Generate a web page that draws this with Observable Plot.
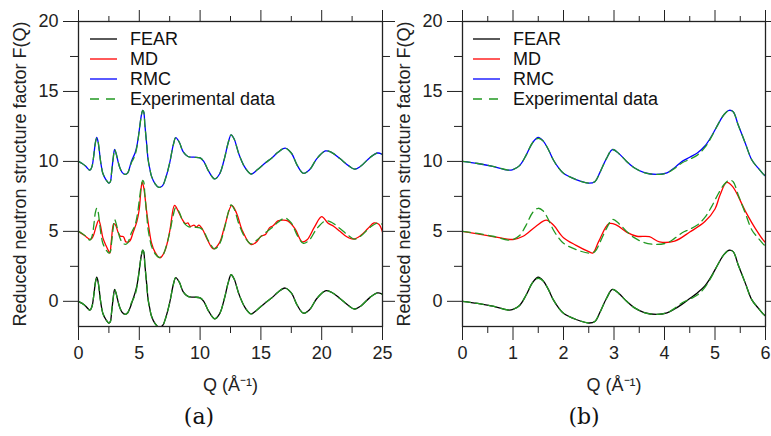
<!DOCTYPE html>
<html><head><meta charset="utf-8">
<script src="https://cdn.jsdelivr.net/npm/d3@7"></script>
<script src="https://cdn.jsdelivr.net/npm/@observablehq/plot@0.6"></script>
<style>
body{margin:0;background:#fff;font-family:"Liberation Sans",Arial,sans-serif;}
#wrap{position:relative;width:771px;height:436px;overflow:hidden;}
.panel{position:absolute;top:0;}
.cap{position:absolute;top:402px;height:30px;line-height:30px;font-family:"DejaVu Serif",serif;font-size:22px;text-align:center;color:#111;}
.legend{position:absolute;top:0;left:0;overflow:visible;}
</style></head><body>
<div id="wrap"></div>
<script>
// ---- data ----
const qExp = [0,0.3,0.6,0.9,1.0,1.13,1.26,1.39,1.5,1.6,1.7,1.8,1.9,2.0,2.25,2.5,2.62,2.72,2.85,2.97,3.1,3.25,3.4,3.6,3.85,4.05,4.2,4.35,4.5,4.65,4.8,4.93,5.06,5.18,5.28,5.36,5.46,5.6,5.73,5.86,6.0,6.3,6.6,6.9,7.2,7.5,7.8,8.0,8.3,8.6,9.0,9.5,10.0,10.3,10.7,11.2,11.6,12.0,12.3,12.55,12.8,13.2,13.7,14.2,14.7,15.3,15.9,16.4,17.0,17.5,18.0,18.5,19.0,19.6,20.3,20.8,21.5,22.2,22.7,23.2,24.0,24.6,25.0];
const expF = [0.0,-0.15,-0.35,-0.62,-0.58,-0.3,0.45,1.35,1.65,1.45,0.85,0.1,-0.45,-0.85,-1.3,-1.55,-1.45,-0.8,0.2,0.85,0.55,0.0,-0.45,-0.8,-0.93,-0.82,-0.5,-0.1,0.15,0.45,1.0,1.75,2.65,3.35,3.65,3.55,2.6,1.3,0.1,-0.5,-1.05,-1.6,-1.85,-1.75,-1.1,-0.1,1.2,1.7,1.35,0.7,0.35,0.3,0.25,0.0,-0.7,-1.25,-0.9,0.2,1.3,1.9,1.6,0.5,-0.45,-0.9,-0.6,-0.15,0.25,0.65,0.95,0.6,-0.3,-0.85,-0.6,0.2,0.75,0.65,0.2,-0.3,-0.55,-0.35,0.3,0.6,0.5];
const fearF = [0.0,-0.15,-0.35,-0.62,-0.58,-0.3,0.45,1.35,1.72,1.45,0.85,0.1,-0.45,-0.85,-1.3,-1.55,-1.45,-0.8,0.2,0.85,0.55,0.0,-0.45,-0.8,-0.93,-0.82,-0.55,-0.2,0.2,0.6,1.1,1.8,2.65,3.35,3.65,3.55,2.6,1.3,0.1,-0.5,-1.05,-1.6,-1.85,-1.75,-1.1,-0.1,1.2,1.7,1.35,0.7,0.35,0.3,0.25,0.0,-0.7,-1.25,-0.9,0.2,1.3,1.9,1.6,0.5,-0.45,-0.9,-0.6,-0.15,0.25,0.65,0.95,0.6,-0.3,-0.85,-0.6,0.2,0.75,0.65,0.2,-0.3,-0.55,-0.35,0.3,0.6,0.5];
const rmcF = [0.0,-0.15,-0.35,-0.62,-0.58,-0.3,0.45,1.35,1.72,1.45,0.85,0.1,-0.45,-0.85,-1.3,-1.55,-1.45,-0.8,0.2,0.85,0.55,0.0,-0.45,-0.8,-0.93,-0.82,-0.45,0.0,0.3,0.6,1.1,1.8,2.65,3.35,3.65,3.55,2.6,1.3,0.1,-0.5,-1.05,-1.6,-1.85,-1.75,-1.1,-0.1,1.2,1.7,1.35,0.7,0.35,0.3,0.25,0.0,-0.7,-1.25,-0.9,0.2,1.3,1.9,1.6,0.5,-0.45,-0.9,-0.6,-0.15,0.25,0.65,0.95,0.6,-0.3,-0.85,-0.6,0.2,0.75,0.65,0.2,-0.3,-0.55,-0.35,0.3,0.6,0.5];
const qMD = [0,0.5,1.0,1.2,1.45,1.66,1.8,2.0,2.25,2.5,2.58,2.7,2.9,3.05,3.25,3.45,3.7,3.9,4.2,4.5,4.8,5.0,5.1,5.23,5.35,5.6,5.8,6.0,6.3,6.7,7.1,7.5,7.9,8.2,8.5,8.8,9.0,9.2,9.5,9.7,9.9,10.2,10.6,11.1,11.6,12.0,12.6,13.0,13.5,14.2,14.7,15.0,15.4,15.7,16.0,16.4,16.8,17.2,17.8,18.4,18.8,19.4,20.0,20.5,21.0,21.5,22.0,22.6,23.2,23.8,24.3,24.7,25.0];
const mdF = [0.0,-0.3,-0.58,-0.35,0.35,0.8,0.45,-0.45,-1.0,-1.45,-1.55,-0.7,0.55,0.45,-0.05,-0.35,-0.38,-0.75,-0.7,-0.05,0.7,1.6,2.6,3.5,3.2,1.45,0.2,-0.8,-1.5,-1.9,-1.4,0.0,1.85,1.45,0.9,0.55,0.6,0.35,0.45,0.3,0.45,0.15,-0.6,-1.25,-0.8,0.3,1.85,1.3,0.0,-0.95,-0.7,-0.35,-0.2,0.25,0.4,0.75,0.8,0.75,0.2,-0.75,-0.6,0.3,1.05,0.6,0.35,0.0,-0.35,-0.55,-0.3,0.2,0.6,0.5,-0.05];
const seriesNames = ["FEAR", "MD", "RMC", "Experimental data"];
const seriesColors = ["#000000", "#ff0000", "#0000ff", "#229922"];
const seriesOffset = {FEAR: 0, MD: 5, RMC: 10};
const yMajor = [0, 5, 10, 15, 20];
const yMinor = [2.5, 7.5, 12.5, 17.5];
const xMajorA = [0, 5, 10, 15, 20, 25];
const xMinorA = [2.5, 7.5, 12.5, 17.5, 22.5];
const xMajorB = [0, 1, 2, 3, 4, 5, 6];
const xMinorB = [0.5, 1.5, 2.5, 3.5, 4.5, 5.5];

// ---- build tables ----
const rows = (q, f, off, s) => q.map((Q, i) => ({Q, F: f[i] + off, s}));
const fear = rows(qExp, fearF, seriesOffset.FEAR, "FEAR");
const rmc = rows(qExp, rmcF, seriesOffset.RMC, "RMC");
const md = rows(qMD, mdF, seriesOffset.MD, "MD");
const exps = [0, 5, 10].flatMap(off => rows(qExp, expF, off, "exp" + off));

const axisColor = "#222";
const fmt = d => String(d);
function panel(xDomain, xMajor, xMinor, width, mL, mR) {
  return Plot.plot({
    width, height: 400, marginLeft: mL, marginRight: mR, marginTop: 21, marginBottom: 74,
    x: {domain: xDomain},
    y: {domain: [-1.8, 20]},
    style: {fontFamily: "'Liberation Sans', Arial, sans-serif", fontSize: "18px", overflow: "visible", background: "transparent", color: axisColor},
    marks: [
      Plot.line(fear, {x: "Q", y: "F", stroke: seriesColors[0], strokeWidth: 1.3, curve: "catmull-rom", clip: true}),
      Plot.line(md, {x: "Q", y: "F", stroke: seriesColors[1], strokeWidth: 1.3, curve: "catmull-rom", clip: true}),
      Plot.line(rmc, {x: "Q", y: "F", stroke: seriesColors[2], strokeWidth: 1.3, curve: "catmull-rom", clip: true}),
      Plot.line(exps, {x: "Q", y: "F", z: "s", stroke: seriesColors[3], strokeWidth: 1.3, strokeDasharray: "8,5", curve: "catmull-rom", clip: true}),
      Plot.frame({stroke: axisColor, strokeWidth: 1.3}),
      Plot.axisX({ticks: xMajor, tickFormat: fmt, tickSize: 14, tickPadding: 6, fontSize: 18, label: "Q (Å⁻¹)", labelAnchor: "center", labelArrow: "none", labelOffset: 64}),
      Plot.axisX({ticks: xMinor, tickSize: 7, text: null, label: null}),
      Plot.axisX({anchor: "top", ticks: xMajor, tickSize: 12, text: null, label: null}),
      Plot.axisX({anchor: "top", ticks: xMinor, tickSize: 6, text: null, label: null}),
      Plot.axisY({ticks: yMajor, tickFormat: fmt, tickSize: 15, tickPadding: 5, fontSize: 18, label: "Reduced neutron structure factor F(Q)", labelAnchor: "center", labelArrow: "none", labelOffset: 65}),
      Plot.axisY({ticks: yMinor, tickSize: 8, text: null, label: null}),
      Plot.axisY({anchor: "right", ticks: yMajor, tickSize: 12, text: null, label: null}),
      Plot.axisY({anchor: "right", ticks: yMinor, tickSize: 7, text: null, label: null})
    ]
  });
}

function legend(x0) {
  const ns = "http://www.w3.org/2000/svg";
  const svg = document.createElementNS(ns, "svg");
  svg.setAttribute("class", "legend");
  svg.setAttribute("width", 300); svg.setAttribute("height", 120);
  svg.style.left = x0 + "px";
  seriesNames.forEach((name, i) => {
    const y = 39 + i * 20;
    const l = document.createElementNS(ns, "line");
    l.setAttribute("x1", 0); l.setAttribute("x2", 27);
    l.setAttribute("y1", y); l.setAttribute("y2", y);
    l.setAttribute("stroke", seriesColors[i]); l.setAttribute("stroke-width", 1.3);
    if (i === 3) l.setAttribute("stroke-dasharray", "9,7");
    svg.appendChild(l);
    const t = document.createElementNS(ns, "text");
    t.setAttribute("x", 40); t.setAttribute("y", y);
    t.setAttribute("dy", "0.35em");
    t.setAttribute("font-size", 18);
    t.setAttribute("font-family", "'Liberation Sans', Arial, sans-serif");
    t.setAttribute("fill", "#111");
    t.textContent = name;
    svg.appendChild(t);
  });
  return svg;
}

const wrap = document.getElementById("wrap");
const pa = document.createElement("div"); pa.className = "panel"; pa.style.left = "0px";
pa.appendChild(panel([0, 25], xMajorA, xMinorA, 385, 78, 3));
const pb = document.createElement("div"); pb.className = "panel"; pb.style.left = "385px";
pb.appendChild(panel([0, 6], xMajorB, xMinorB, 386, 77, 6));
wrap.appendChild(pa); wrap.appendChild(pb);
wrap.appendChild(legend(90));
wrap.appendChild(legend(473));
const ca = document.createElement("div"); ca.className = "cap"; ca.style.left = "0px"; ca.style.width = "398px"; ca.textContent = "(a)";
const cb = document.createElement("div"); cb.className = "cap"; cb.style.left = "385px"; cb.style.width = "398px"; cb.textContent = "(b)";
wrap.appendChild(ca); wrap.appendChild(cb);
</script></body></html>
